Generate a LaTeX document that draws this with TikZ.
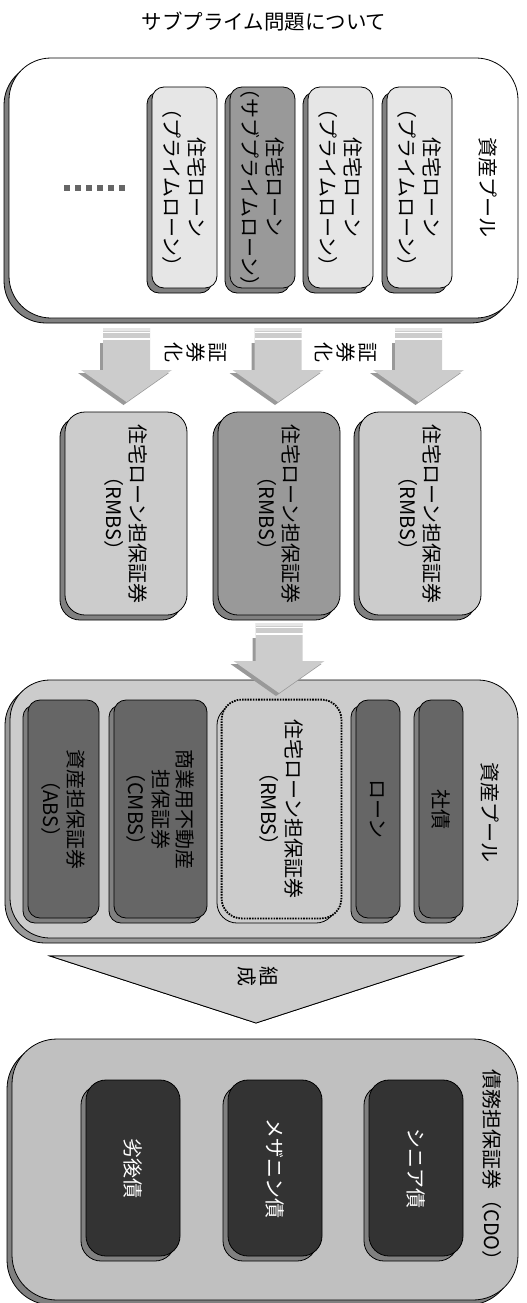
\documentclass[tikz,border=0pt]{standalone}
\usepackage{fontspec}
\newfontfamily\jp{Noto Sans CJK JP}
\usetikzlibrary{shadows}
\definecolor{cLight}{HTML}{E6E6E6}
\definecolor{cMid}{HTML}{CCCCCC}
\definecolor{cDark}{HTML}{999999}
\definecolor{cShadow}{HTML}{808080}
\definecolor{cDeep}{HTML}{666666}
\definecolor{cCdo}{HTML}{C0C0C0}
\definecolor{cBlack}{HTML}{333333}
\tikzset{
  shd/.style={drop shadow={shadow xshift=-5pt,shadow yshift=-5pt,fill=#1,draw=black,opacity=1}},
  box/.style={draw=black,line width=0.8pt,rectangle,inner sep=0pt},
  pool/.style={box,rounded corners=42pt},
  smallbox/.style={box,rounded corners=12pt,minimum width=65pt,minimum height=201pt},
  rmbsbox/.style={box,rounded corners=20pt,minimum width=122pt,minimum height=203pt},
  midbox/.style={box,rounded corners=12pt,minimum height=218pt},
  cdobox/.style={box,rounded corners=20pt,minimum width=94pt,minimum height=176pt,fill=cBlack,shd=cShadow},
  txt/.style={font=\jp\fontsize{20}{24.5}\selectfont,align=center,rotate=-90,inner sep=0pt},
  arrowbody/.style={fill=cMid},
  arrowshadow/.style={fill=cDark},
}
\newcommand\blkarrow[4]{%
  \path[arrowshadow,shift={(-3,3)}] (#1-23.5,#2+12) -- (#1-23.5,#3) -- (#1-45.5,#3) -- (#1,#4) -- (#1+45.5,#3) -- (#1+23.5,#3) -- (#1+23.5,#2+12) -- cycle;
  \path[arrowbody] (#1-23.5,#2) -- (#1-23.5,#3) -- (#1-45.5,#3) -- (#1,#4) -- (#1+45.5,#3) -- (#1+23.5,#3) -- (#1+23.5,#2) -- cycle;
  \fill[cLight] (#1-23.5,#2) rectangle (#1+23.5,#2+3);
  \draw[white,line width=1.2pt] (#1-23.5,#2+4.5) -- (#1+23.5,#2+4.5);
  \draw[white,line width=1.2pt] (#1-23.5,#2+11) -- (#1+23.5,#2+11);
}
\begin{document}
\begin{tikzpicture}[x=1pt,y=-1pt]
\useasboundingbox (0,0) rectangle (527,1303);
% title
\node[font=\jp\fontsize{20.5}{24}\selectfont] (title) at (264,22) {サブプライム問題について};

% top pool
\node[pool,fill=white,shd=cShadow,minimum width=509pt,minimum height=260pt] (P1) at (263.5,188) {};
\node[smallbox,fill=cLight,shd=cShadow] (L1) at (184.5,187.5) {};
\node[smallbox,fill=cDark,shd=cShadow] (L2) at (262.5,187.5) {};
\node[smallbox,fill=cLight,shd=cShadow] (L3) at (340.5,187.5) {};
\node[smallbox,fill=cLight,shd=cShadow] (L4) at (419.5,187.5) {};
\node[txt] (L1t) at (L1) {住宅ローン\\（プライムローン）};
\node[txt] (L2t) at (L2) {住宅ローン\\（サブプライムローン）};
\node[txt] (L3t) at (L3) {住宅ローン\\（プライムローン）};
\node[txt] (L4t) at (L4) {住宅ローン\\（プライムローン）};
\node[txt] (P1t) at (488,188) {資産プール};
\foreach \i in {0,...,5} {\fill[cDeep] (64+11*\i,185) rectangle (70+11*\i,191);}

% securitization arrows
\blkarrow{126.5}{328}{370}{402}
\blkarrow{278}{328}{370}{402}
\blkarrow{418.5}{328}{370}{402}
\node[txt,font=\jp\fontsize{20}{22}\selectfont] (sec1) at (196,352) {証\\券\\化};
\node[txt,font=\jp\fontsize{20}{22}\selectfont] (sec2) at (346,352) {証\\券\\化};

% RMBS row
\node[rmbsbox,fill=cMid,shd=cShadow] (R1) at (126,513.5) {};
\node[rmbsbox,fill=cDark,shd=cShadow] (R2) at (279,513.5) {};
\node[rmbsbox,fill=cMid,shd=cShadow] (R3) at (420,513.5) {};
\node[txt] (R1t) at (R1) {住宅ローン担保証券\\（RMBS）};
\node[txt] (R2t) at (R2) {住宅ローン担保証券\\（RMBS）};
\node[txt] (R3t) at (R3) {住宅ローン担保証券\\（RMBS）};

% middle pool
\node[pool,rounded corners=40pt,fill=cMid,shd=cDark,minimum width=508pt,minimum height=258pt] (P2) at (264,809) {};
\node[midbox,fill=cDeep,shd=cShadow,minimum width=71pt] (M1) at (63.5,809) {};
\node[midbox,fill=cDeep,shd=cShadow,minimum width=93pt] (M2) at (160.5,809) {};
\node[midbox,fill=cMid,rounded corners=20pt,draw=none,shd=cMid,minimum width=119pt] (M3) at (281.5,809) {};
\draw[dash pattern=on 1.6pt off 1.1pt,line width=1.8pt,rounded corners=20pt] (M3.south west) rectangle (M3.north east);
\node[midbox,fill=cDeep,shd=cShadow,minimum width=44pt] (M4) at (378,809) {};
\node[midbox,fill=cDeep,shd=cShadow,minimum width=44pt] (M5) at (441,809) {};
\node[txt] (M1t) at (M1) {資産担保証券\\（ABS）};
\node[txt] (M2t) at (M2) {商業用不動産\\担保証券\\（CMBS）};
\node[txt] (M3t) at (M3) {住宅ローン担保証券\\（RMBS）};
\node[txt] (M4t) at (M4) {ローン};
\node[txt] (M5t) at (M5) {社債};
\node[txt] (P2t) at (490,812) {資産プール};

% arrow from RMBS to pool (drawn over pool)
\blkarrow{279}{623}{661}{693}

% composition arrow
\coordinate (cl) at (50,956);
\coordinate (cr) at (462,956);
\coordinate (ct) at (256,1023);
\draw[fill=cShadow,line width=0.8pt,shift={(-4,5)}] (cl) -- (cr) -- (ct) -- cycle;
\draw[fill=cMid,line width=0.8pt] (cl) -- (cr) -- (ct) -- cycle;
\node[txt,font=\jp\fontsize{20}{22}\selectfont] (comp) at (258,976) {組\\成};

% CDO pool
\node[pool,rounded corners=45pt,fill=cCdo,shd=cShadow,minimum width=506pt,minimum height=261pt] (P3) at (265,1169.5) {};
\node[cdobox] (S1) at (133,1168) {};
\node[cdobox] (S2) at (275,1168) {};
\node[cdobox] (S3) at (416,1168) {};
\node[txt,text=white] (S1t) at (S1) {劣後債};
\node[txt,text=white] (S2t) at (S2) {メザニン債};
\node[txt,text=white] (S3t) at (S3) {シニア債};
\node[txt] (P3t) at (492,1170) {債務担保証券（CDO）};
\end{tikzpicture}
\end{document}
